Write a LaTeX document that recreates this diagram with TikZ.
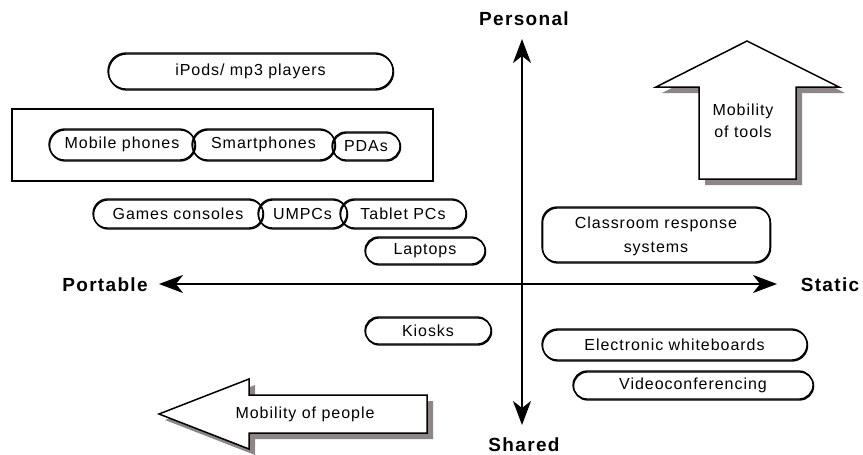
\documentclass[tikz,border=0pt]{standalone}
\usepackage{fontspec}
\setmainfont{Liberation Sans}
\newfontfamily\itemfont{Liberation Sans}[LetterSpace=6]
\newfontfamily\axisfont{Liberation Sans}[LetterSpace=7]
\usetikzlibrary{shapes.misc,arrows.meta}
\definecolor{shadowgrey}{HTML}{8E8686}
\tikzset{
  pill/.style={draw, line width=1.3pt, rounded rectangle, inner sep=0pt,
    font=\itemfont\fontsize{16}{19}\selectfont,
    preaction={draw, line width=1.3pt, transform canvas={xshift=0.6pt,yshift=-1pt}}},
  roundbox/.style={draw, line width=1.3pt, rounded corners=15pt, inner sep=0pt,
    align=center, font=\itemfont\fontsize{16}{24}\selectfont, text depth=0pt,
    preaction={draw, line width=1.3pt, rounded corners=15pt, transform canvas={xshift=0.6pt,yshift=-1pt}}},
  axislabel/.style={font=\axisfont\bfseries\fontsize{19}{22}\selectfont, inner sep=0pt},
  axis/.style={line width=2pt, {Stealth[length=24pt,width=18pt,inset=7pt]}-{Stealth[length=24pt,width=18pt,inset=7pt]}},
  blockarrow/.style={draw, fill=white, line width=1.5pt, line join=miter},
  blockshadow/.style={fill=shadowgrey},
  arrowtext/.style={font=\itemfont\fontsize{16}{22}\selectfont, align=center, inner sep=0pt}
}
\begin{document}
\begin{tikzpicture}[x=1pt,y=-1pt]
\useasboundingbox (0,0) rectangle (863,455);

% axes
\coordinate (top) at (522,39);
\coordinate (bottom) at (522,425);
\coordinate (left) at (159,284);
\coordinate (right) at (777,284);
\draw[axis] (bottom) -- (top);
\draw[axis] (left) -- (right);
\node[axislabel] (personal) at (524,19) {Personal};
\node[axislabel, anchor=base] (shared) at (524,451) {Shared};
\node[axislabel] (portable) at (105,285) {Portable};
\node[axislabel] (static) at (830,285) {Static};

% phone group frame
\draw[line width=1.3pt] (12,109) rectangle (433,181);

% portable, personal tools
\node[pill, minimum width=285pt, minimum height=36pt] (ipods) at (250.5,71) {iPods/ mp3 players};
\node[pill, minimum width=146pt, minimum height=31pt] (mobile) at (122,144.5) {Mobile phones};
\node[pill, minimum width=143pt, minimum height=31pt] (smart) at (263.5,144.5) {Smartphones};
\node[pill, minimum width=68pt, minimum height=28pt] (pdas) at (366,146) {PDAs};
\node[pill, minimum width=170pt, minimum height=29pt] (games) at (178,213.5) {Games consoles};
\node[pill, minimum width=89pt, minimum height=29pt] (umpcs) at (302.5,213.5) {UMPCs};
\node[pill, minimum width=126pt, minimum height=29pt] (tablet) at (403,213.5) {Tablet PCs};
\node[pill, minimum width=120pt, minimum height=27pt] (laptops) at (425,250.5) {Laptops};
\node[pill, minimum width=126pt, minimum height=27pt] (kiosks) at (428,330.5) {Kiosks};

% static tools
\node[roundbox, minimum width=228pt, minimum height=55pt] (crs) at (656,234.5) {Classroom response\\systems};
\node[pill, minimum width=265pt, minimum height=31pt] (iwb) at (674.5,344.5) {Electronic whiteboards};
\node[pill, minimum width=240pt, minimum height=28pt] (video) at (693,385) {Videoconferencing};

% block arrow: mobility of tools
\fill[blockshadow, shift={(6,6)}] (747,41) -- (839,87) -- (796,87) -- (796,179) -- (699,179) -- (699,87) -- (656,87) -- cycle;
\draw[blockarrow] (747,41) -- (839,87) -- (796,87) -- (796,179) -- (699,179) -- (699,87) -- (656,87) -- cycle;
\node[arrowtext] (tools) at (743,121) {Mobility\\of tools};

% block arrow: mobility of people
\fill[blockshadow, shift={(6,6)}] (159,414) -- (249,379) -- (249,395) -- (427,395) -- (427,433) -- (249,433) -- (249,449) -- cycle;
\draw[blockarrow] (159,414) -- (249,379) -- (249,395) -- (427,395) -- (427,433) -- (249,433) -- (249,449) -- cycle;
\node[arrowtext] (people) at (305,414) {Mobility of people};
\end{tikzpicture}
\end{document}
